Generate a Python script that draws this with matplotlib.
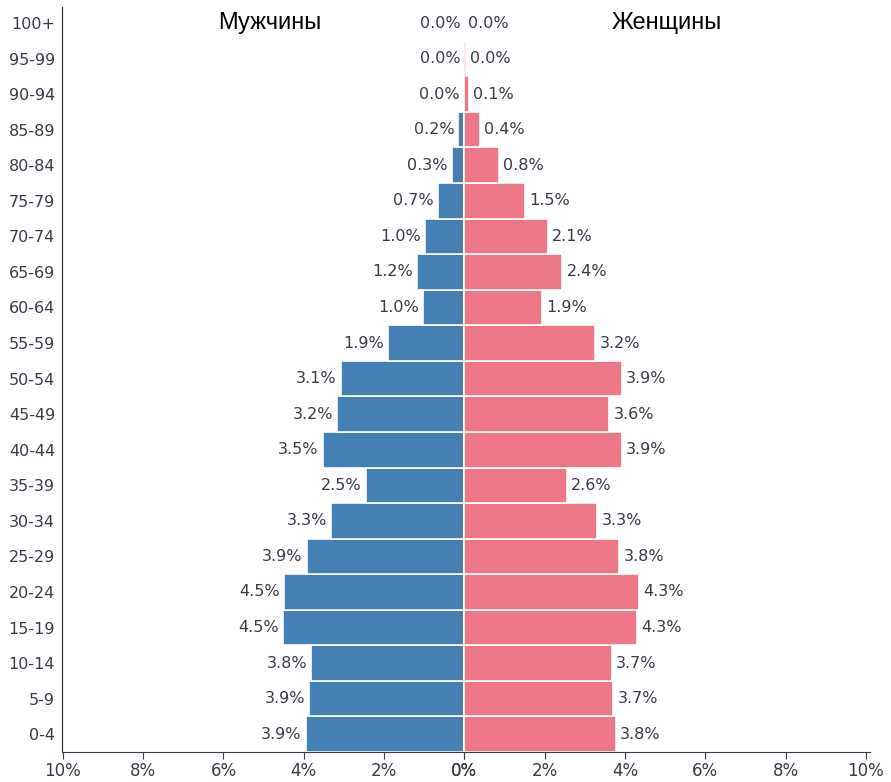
"""Population pyramid: male / female share by age group."""

import matplotlib.pyplot as plt
import numpy as np

age_groups = ["0-4", "5-9", "10-14", "15-19", "20-24", "25-29", "30-34",
              "35-39", "40-44", "45-49", "50-54", "55-59", "60-64", "65-69",
              "70-74", "75-79", "80-84", "85-89", "90-94", "95-99", "100+"]

# share of total population, %
male = [3.95, 3.87, 3.81, 4.52, 4.50, 3.93, 3.31, 2.46, 3.53, 3.16, 3.08,
        1.89, 1.04, 1.19, 0.99, 0.66, 0.32, 0.15, 0.03, 0.005, 0.0]
female = [3.78, 3.71, 3.68, 4.30, 4.35, 3.86, 3.31, 2.56, 3.93, 3.61, 3.93,
          3.26, 1.94, 2.44, 2.09, 1.52, 0.85, 0.40, 0.12, 0.03, 0.0]

male_labels = ["3.9%", "3.9%", "3.8%", "4.5%", "4.5%", "3.9%", "3.3%", "2.5%",
               "3.5%", "3.2%", "3.1%", "1.9%", "1.0%", "1.2%", "1.0%", "0.7%",
               "0.3%", "0.2%", "0.0%", "0.0%", "0.0%"]
female_labels = ["3.8%", "3.7%", "3.7%", "4.3%", "4.3%", "3.8%", "3.3%", "2.6%",
                 "3.9%", "3.6%", "3.9%", "3.2%", "1.9%", "2.4%", "2.1%", "1.5%",
                 "0.8%", "0.4%", "0.1%", "0.0%", "0.0%"]

x_ticks = [-10, -8, -6, -4, -2, 0, 0, 2, 4, 6, 8, 10]
x_tick_labels = ["10%", "8%", "6%", "4%", "2%", "0%", "0%", "2%", "4%", "6%", "8%", "10%"]

MALE_COLOR = "#4580b5"
FEMALE_COLOR = "#ee7787"
TEXT_COLOR = "#3a3a4a"

fig = plt.figure(figsize=(8.91, 7.82), dpi=100)
ax = fig.add_axes([62 / 891, 30 / 782, (870 - 62) / 891, (752 - 7) / 782])

y = np.arange(len(age_groups))
ax.barh(y, -np.array(male), height=1.0, color=MALE_COLOR, edgecolor="white", linewidth=1.2)
ax.barh(y, female, height=1.0, color=FEMALE_COLOR, edgecolor="white", linewidth=1.2)

for yi, v, lab in zip(y, male, male_labels):
    ax.text(-v - 0.1, yi, lab, ha="right", va="center", fontsize=11.5, color=TEXT_COLOR)
for yi, v, lab in zip(y, female, female_labels):
    ax.text(v + 0.1, yi, lab, ha="left", va="center", fontsize=11.5, color=TEXT_COLOR)

ax.text(-4.85, 20.0, "Мужчины", ha="center", va="center", fontsize=17,
        family="Liberation Sans", color="black")
ax.text(5.05, 20.0, "Женщины", ha="center", va="center", fontsize=17,
        family="Liberation Sans", color="black")

ax.set_xlim(-10.02, 10.1)
ax.set_ylim(-0.5, 20.45)
ax.set_yticks(y)
ax.set_yticklabels(age_groups, fontsize=11.5, color=TEXT_COLOR)
ax.tick_params(axis="y", length=0, pad=5)
ax.set_xticks(x_ticks)
ax.set_xticklabels(x_tick_labels, fontsize=12, color=TEXT_COLOR)
ax.tick_params(axis="x", length=5, color=TEXT_COLOR, pad=2)

ax.spines["top"].set_visible(False)
ax.spines["right"].set_visible(False)
ax.spines["left"].set_color("#222222")
ax.spines["bottom"].set_color(TEXT_COLOR)

fig.savefig("out.png", dpi=100)
plt.close(fig)
